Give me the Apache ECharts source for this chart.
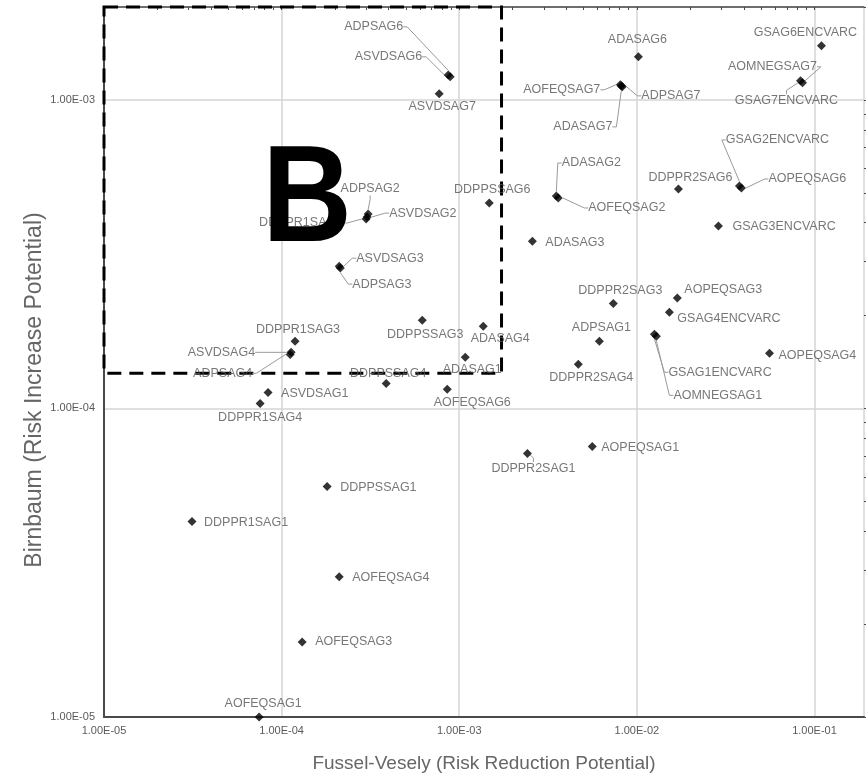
<!DOCTYPE html>
<html><head><meta charset="utf-8">
<script src="https://cdn.jsdelivr.net/npm/echarts@6/dist/echarts.min.js"></script>
<style>html,body{margin:0;padding:0;background:#fff}#c{width:866px;height:779px}</style>
</head><body><div id="c"></div>
<script>
// ---- data ----
const names = [
  'ADPSAG6','ASVDSAG6','ASVDSAG7','ADPSAG2','ASVDSAG2','DDPPR1SAG2','DDPPSSAG6','ASVDSAG3','ADPSAG3','DDPPSSAG3',
  'ADASAG4','DDPPR1SAG3','ASVDSAG4','ADPSAG4','ADASAG1','DDPPSSAG4','AOFEQSAG6','ASVDSAG1','DDPPR1SAG4','ADASAG6',
  'GSAG6ENCVARC','AOMNEGSAG7','GSAG7ENCVARC','AOFEQSAG7','ADPSAG7','ADASAG7','GSAG2ENCVARC','AOPEQSAG6','DDPPR2SAG6','ADASAG2',
  'AOFEQSAG2','GSAG3ENCVARC','ADASAG3','DDPPR2SAG3','AOPEQSAG3','GSAG4ENCVARC','ADPSAG1','GSAG1ENCVARC','AOMNEGSAG1','AOPEQSAG4',
  'DDPPR2SAG4','AOPEQSAG1','DDPPR2SAG1','DDPPSSAG1','DDPPR1SAG1','AOFEQSAG4','AOFEQSAG3','AOFEQSAG1'
];
const fussellVesely = [
  8.67e-4, 8.89e-4, 7.71e-4, 3.07e-4, 3.03e-4, 2.99e-4, 1.476e-3, 2.11e-4, 2.14e-4, 6.19e-4,
  1.365e-3, 1.19e-4, 1.131e-4, 1.117e-4, 1.081e-3, 3.88e-4, 8.56e-4, 8.39e-5, 7.57e-5, 1.02e-2,
  1.094e-1, 8.34e-2, 8.56e-2, 8.07e-3, 8.28e-3, 8.18e-3, 3.78e-2, 3.88e-2, 1.714e-2, 3.52e-3,
  3.61e-3, 2.88e-2, 2.58e-3, 7.37e-3, 1.69e-2, 1.524e-2, 6.15e-3, 1.255e-2, 1.288e-2, 5.58e-2,
  4.68e-3, 5.61e-3, 2.42e-3, 1.804e-4, 3.13e-5, 2.11e-4, 1.305e-4, 7.47e-5
];
const birnbaum = [
  1.205e-3, 1.188e-3, 1.046e-3, 4.27e-4, 4.17e-4, 4.11e-4, 4.63e-4, 2.89e-4, 2.85e-4, 1.93e-4,
  1.845e-4, 1.65e-4, 1.52e-4, 1.497e-4, 1.464e-4, 1.205e-4, 1.153e-4, 1.127e-4, 1.038e-4, 1.379e-3,
  1.497e-3, 1.153e-3, 1.136e-3, 1.119e-3, 1.102e-3, 1.11e-3, 5.26e-4, 5.18e-4, 5.14e-4, 4.88e-4,
  4.81e-4, 3.90e-4, 3.48e-4, 2.19e-4, 2.28e-4, 2.05e-4, 1.65e-4, 1.739e-4, 1.713e-4, 1.509e-4,
  1.39e-4, 7.53e-5, 7.14e-5, 5.58e-5, 4.30e-5, 2.85e-5, 1.75e-5, 1.0e-5
];
const xRange = [1e-5, 0.19];
const yRange = [1e-5, 2e-3];
const boxFV = [1e-5, 1.73e-3];        // dashed region "B"
const boxBirnbaum = [1.3e-4, 2e-3];
const minorMultipliers = [1, 2, 3, 4, 5, 6, 7, 8, 9];
const xTitle = 'Fussel-Vesely (Risk Reduction Potential)';
const yTitle = 'Birnbaum (Risk Increase Potential)';
const regionLetter = 'B';

// ---- label placement (style only): [dx, dy, align, leader] ----
const labelPlacement = {
  ADPSAG6: [-45, -48, 'right', true], ASVDSAG6: [-28, -20, 'right', true], ASVDSAG7: [3, 13, 'center', false],
  ADPSAG2: [2, -25, 'center', true], ASVDSAG2: [22, -4, 'left', true], DDPPR1SAG2: [-107, 4, 'left', true],
  DDPPSSAG6: [3, -14, 'center', false], ASVDSAG3: [17, -8, 'left', true], ADPSAG3: [12, 16, 'left', true],
  DDPPSSAG3: [3, 14, 'center', false], ADASAG4: [17, 12, 'center', false], DDPPR1SAG3: [3, -12, 'center', false],
  ASVDSAG4: [-36, 0, 'right', true], ADPSAG4: [-38, 19, 'right', true], ADASAG1: [7, 12, 'center', false],
  DDPPSSAG4: [2, -10, 'center', false], AOFEQSAG6: [25, 13, 'center', false], ASVDSAG1: [13, 1, 'left', false],
  DDPPR1SAG4: [0, 14, 'center', false], ADASAG6: [-1, -17, 'center', false], GSAG6ENCVARC: [-16, -13, 'center', false],
  AOMNEGSAG7: [-28, -14, 'center', true], GSAG7ENCVARC: [-16, 18, 'center', true], AOFEQSAG7: [-20, 5, 'right', true],
  ADPSAG7: [19, 9, 'left', true], ADASAG7: [-9, 41, 'right', true], GSAG2ENCVARC: [38, -46, 'center', true],
  AOPEQSAG6: [27, -9, 'left', true], DDPPR2SAG6: [12, -12, 'center', false], ADASAG2: [35, -33, 'center', true],
  AOFEQSAG2: [30, 10, 'left', true], GSAG3ENCVARC: [14, 0, 'left', false], ADASAG3: [13, 1, 'left', false],
  DDPPR2SAG3: [7, -13, 'center', false], AOPEQSAG3: [7, -8, 'left', false], GSAG4ENCVARC: [8, 6, 'left', false],
  ADPSAG1: [2, -14, 'center', false], GSAG1ENCVARC: [14, 38, 'left', true], AOMNEGSAG1: [17, 59, 'left', true],
  AOPEQSAG4: [9, 2, 'left', false], DDPPR2SAG4: [13, 13, 'center', false], AOPEQSAG1: [9, 1, 'left', false],
  DDPPR2SAG1: [6, 15, 'center', true], DDPPSSAG1: [13, 1, 'left', false], DDPPR1SAG1: [12, 1, 'left', false],
  AOFEQSAG4: [13, 1, 'left', false], AOFEQSAG3: [13, 0, 'left', false], AOFEQSAG1: [4, -13, 'center', false]
};

const FONT = 'Liberation Sans, Arial, sans-serif';
const SYM = 9;

function sciLabel(v) {
  const lg = Math.log10(v);
  if (Math.abs(lg - Math.round(lg)) > 1e-6) return '';
  const e = Math.round(lg);
  const s = e < 0 ? '-' : '+';
  const a = Math.abs(e);
  return '1.00E' + s + (a < 10 ? '0' + a : '' + a);
}
function logMinor(range) {
  const out = [];
  const lo = Math.floor(Math.log10(range[0])), hi = Math.ceil(Math.log10(range[1]));
  for (let d = lo; d <= hi; d++) {
    minorMultipliers.forEach(m => {
      const v = m * Math.pow(10, d);
      if (v >= range[0] * 0.999 && v <= range[1] * 1.001) out.push(Math.log10(v));
    });
  }
  return out;
}

const data = names.map((n, i) => {
  const p = labelPlacement[n];
  return {
    name: n,
    value: [fussellVesely[i], birnbaum[i]],
    label: { position: [p[0] + SYM / 2, p[1] + SYM / 2], align: p[2], verticalAlign: 'middle' },
    labelLine: { show: !!p[3] }
  };
});

const chart = echarts.init(document.getElementById('c'), null, { renderer: 'canvas' });
chart.setOption({
  animation: false,
  backgroundColor: '#ffffff',
  grid: { left: 104, right: 2, top: 7, bottom: 62, containLabel: false },
  xAxis: [
    {
      type: 'log', logBase: 10, min: xRange[0], max: xRange[1], position: 'bottom',
      axisLine: { show: true, onZero: false, lineStyle: { color: '#4a4a4a', width: 2 } },
      axisTick: { show: false },
      axisLabel: { formatter: sciLabel, fontSize: 11, color: '#5a5a5a', fontFamily: FONT, margin: 8, showMaxLabel: false },
      splitLine: { show: true, lineStyle: { color: '#d4d4d4', width: 1.5 } },
      name: xTitle, nameLocation: 'middle', nameGap: 37,
      nameTextStyle: { fontSize: 19, color: '#666', fontFamily: FONT }
    },
    {
      type: 'value', position: 'top', min: Math.log10(xRange[0]), max: Math.log10(xRange[1]),
      axisLine: { show: true, onZero: false, lineStyle: { color: '#4a4a4a', width: 1.5 } },
      axisTick: { show: true, inside: true, length: 3, customValues: logMinor(xRange), lineStyle: { color: '#4a4a4a' } },
      axisLabel: { show: false }, splitLine: { show: false }
    }
  ],
  yAxis: [
    {
      type: 'log', logBase: 10, min: yRange[0], max: yRange[1], position: 'left',
      axisLine: { show: true, onZero: false, lineStyle: { color: '#4a4a4a', width: 2 } },
      axisTick: { show: false },
      axisLabel: { formatter: sciLabel, fontSize: 11, color: '#5a5a5a', fontFamily: FONT, margin: 9, showMaxLabel: false },
      splitLine: { show: true, lineStyle: { color: '#d4d4d4', width: 1.5 } }
    },
    {
      type: 'value', position: 'right', min: Math.log10(yRange[0]), max: Math.log10(yRange[1]),
      axisLine: { show: false },
      axisTick: { show: true, inside: false, length: 3, customValues: logMinor(yRange), lineStyle: { color: '#4a4a4a' } },
      axisLabel: { show: false }, splitLine: { show: false }
    }
  ],
  series: [{
    type: 'scatter',
    xAxisIndex: 0, yAxisIndex: 0,
    symbol: 'diamond', symbolSize: SYM,
    clip: false,
    itemStyle: { color: '#000' },
    label: { show: true, formatter: '{b}', fontSize: 12.5, color: '#555', fontFamily: FONT },
    labelLine: { length2: 4, lineStyle: { color: '#9a9a9a', width: 1 } },
    data: data,
    markArea: {
      silent: true,
      label: { show: false },
      itemStyle: { color: 'rgba(0,0,0,0)', borderColor: '#000', borderWidth: 3, borderType: [14, 8] },
      data: [[{ coord: [boxFV[0], boxBirnbaum[1]] }, { coord: [boxFV[1], boxBirnbaum[0]] }]]
    }
  }],
  graphic: [
    {
      type: 'text', x: 35, y: 390, rotation: Math.PI / 2, z: 10,
      style: { text: yTitle, font: '23px ' + FONT, fill: '#666', align: 'center', verticalAlign: 'middle' }
    },
    {
      type: 'text', x: 307, y: 203, scaleX: 0.9, z: 100,
      style: { text: regionLetter, font: 'bold 138px ' + FONT, fill: '#000', align: 'center', verticalAlign: 'middle' }
    }
  ]
});
</script>
</body></html>
